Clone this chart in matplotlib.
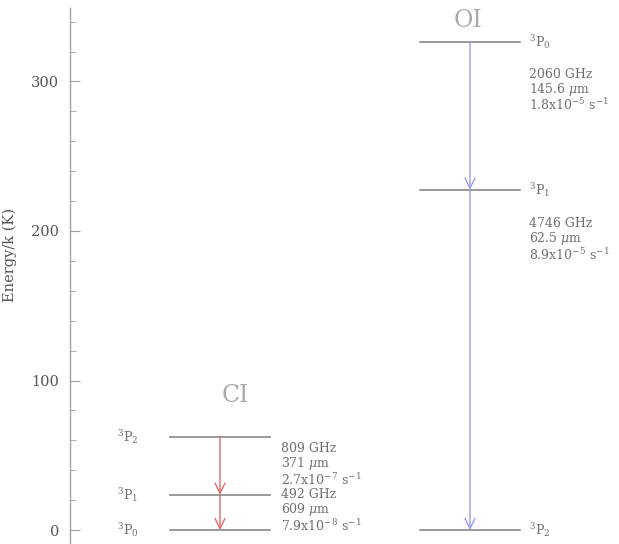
import matplotlib
matplotlib.use("Agg")
import matplotlib.pyplot as plt
from matplotlib.ticker import MultipleLocator

plt.rcParams['font.family'] = ['DejaVu Serif']
plt.rcParams['mathtext.fontset'] = 'dejavuserif'

# ---- data ----
ci_levels = [r'$^3$P$_0$', r'$^3$P$_1$', r'$^3$P$_2$']
ci_energy = [0.0, 23.6, 62.5]
oi_levels = [r'$^3$P$_2$', r'$^3$P$_1$', r'$^3$P$_0$']
oi_energy = [0.0, 227.7, 326.6]

ci_freq = ['809 GHz', '492 GHz']
ci_wave = [r'371 $\mu$m', r'609 $\mu$m']
ci_A = [r'2.7x10$^{-7}$ s$^{-1}$', r'7.9x10$^{-8}$ s$^{-1}$']
oi_freq = ['2060 GHz', '4746 GHz']
oi_wave = [r'145.6 $\mu$m', r'62.5 $\mu$m']
oi_A = [r'1.8x10$^{-5}$ s$^{-1}$', r'8.9x10$^{-5}$ s$^{-1}$']

ytick_major = [0, 100, 200, 300]

# ---- layout ----
W, H = 619, 544
fig = plt.figure(figsize=(W/100, H/100), dpi=100)
ax_left = 70/W
ax_top = 8/H
ax = fig.add_axes([ax_left, 0.0, 1-ax_left, 1-ax_top])
ax.set_xlim(70, 619)
px_per_unit = 1.495
ax.set_ylim(-(544-530)/px_per_unit, (530-8)/px_per_unit)

gray = '#8a8a8a'
tgray = '#707070'
red = '#e06a6a'
blue = '#9a9af0'

for s in ['top', 'right', 'bottom']:
    ax.spines[s].set_visible(False)
ax.spines['left'].set_color('#a0a0a0')
ax.spines['left'].set_linewidth(1.0)
ax.set_xticks([])
ax.set_yticks(ytick_major)
ax.yaxis.set_minor_locator(MultipleLocator(20))
ax.tick_params(axis='y', which='major', direction='in', length=7, color='#a0a0a0',
               labelsize=10.5, labelcolor='#555555', pad=8)
ax.tick_params(axis='y', which='minor', direction='in', length=4, color='#a0a0a0')
ax.set_ylabel('Energy/k (K)', fontsize=10.5, color='#555555')
ax.yaxis.set_label_coords((17-70)/549, (544-255)/536)

# CI
ci_x0, ci_x1, ci_xa = 170, 270, 220
for e, lab in zip(ci_energy, ci_levels):
    ax.plot([ci_x0, ci_x1], [e, e], color=gray, lw=1.2)
    ax.text(117, e, lab, fontsize=9, color=tgray, ha='left', va='center')
for (e_hi, e_lo) in [(ci_energy[2], ci_energy[1]), (ci_energy[1], ci_energy[0])]:
    ax.annotate('', xy=(ci_xa, e_lo), xytext=(ci_xa, e_hi),
                arrowprops=dict(arrowstyle='->', color=red, lw=1.0,
                                mutation_scale=18, shrinkA=0, shrinkB=0))
ci_text_y = [43.5, 12.5]
for i in range(2):
    ax.text(281, ci_text_y[i], f'{ci_freq[i]}\n{ci_wave[i]}\n{ci_A[i]}',
            fontsize=9, color=tgray, ha='left', va='center', linespacing=1.0)
ax.text(235, 90, 'CI', fontsize=17, color='#aaaaaa', ha='center', va='center')

# OI
oi_x0, oi_x1, oi_xa = 420, 520, 470
for e, lab in zip(oi_energy, oi_levels):
    ax.plot([oi_x0, oi_x1], [e, e], color=gray, lw=1.2)
    ax.text(529, e, lab, fontsize=9, color=tgray, ha='left', va='center')
for (e_hi, e_lo) in [(oi_energy[2], oi_energy[1]), (oi_energy[1], oi_energy[0])]:
    ax.annotate('', xy=(oi_xa, e_lo), xytext=(oi_xa, e_hi),
                arrowprops=dict(arrowstyle='->', color=blue, lw=1.0,
                                mutation_scale=18, shrinkA=0, shrinkB=0))
oi_text_y = [294, 194]
for i in range(2):
    ax.text(529, oi_text_y[i], f'{oi_freq[i]}\n{oi_wave[i]}\n{oi_A[i]}',
            fontsize=9, color=tgray, ha='left', va='center', linespacing=1.0)
ax.text(468, 341, 'OI', fontsize=17, color='#aaaaaa', ha='center', va='center')

fig.savefig('out.png', dpi=100)
